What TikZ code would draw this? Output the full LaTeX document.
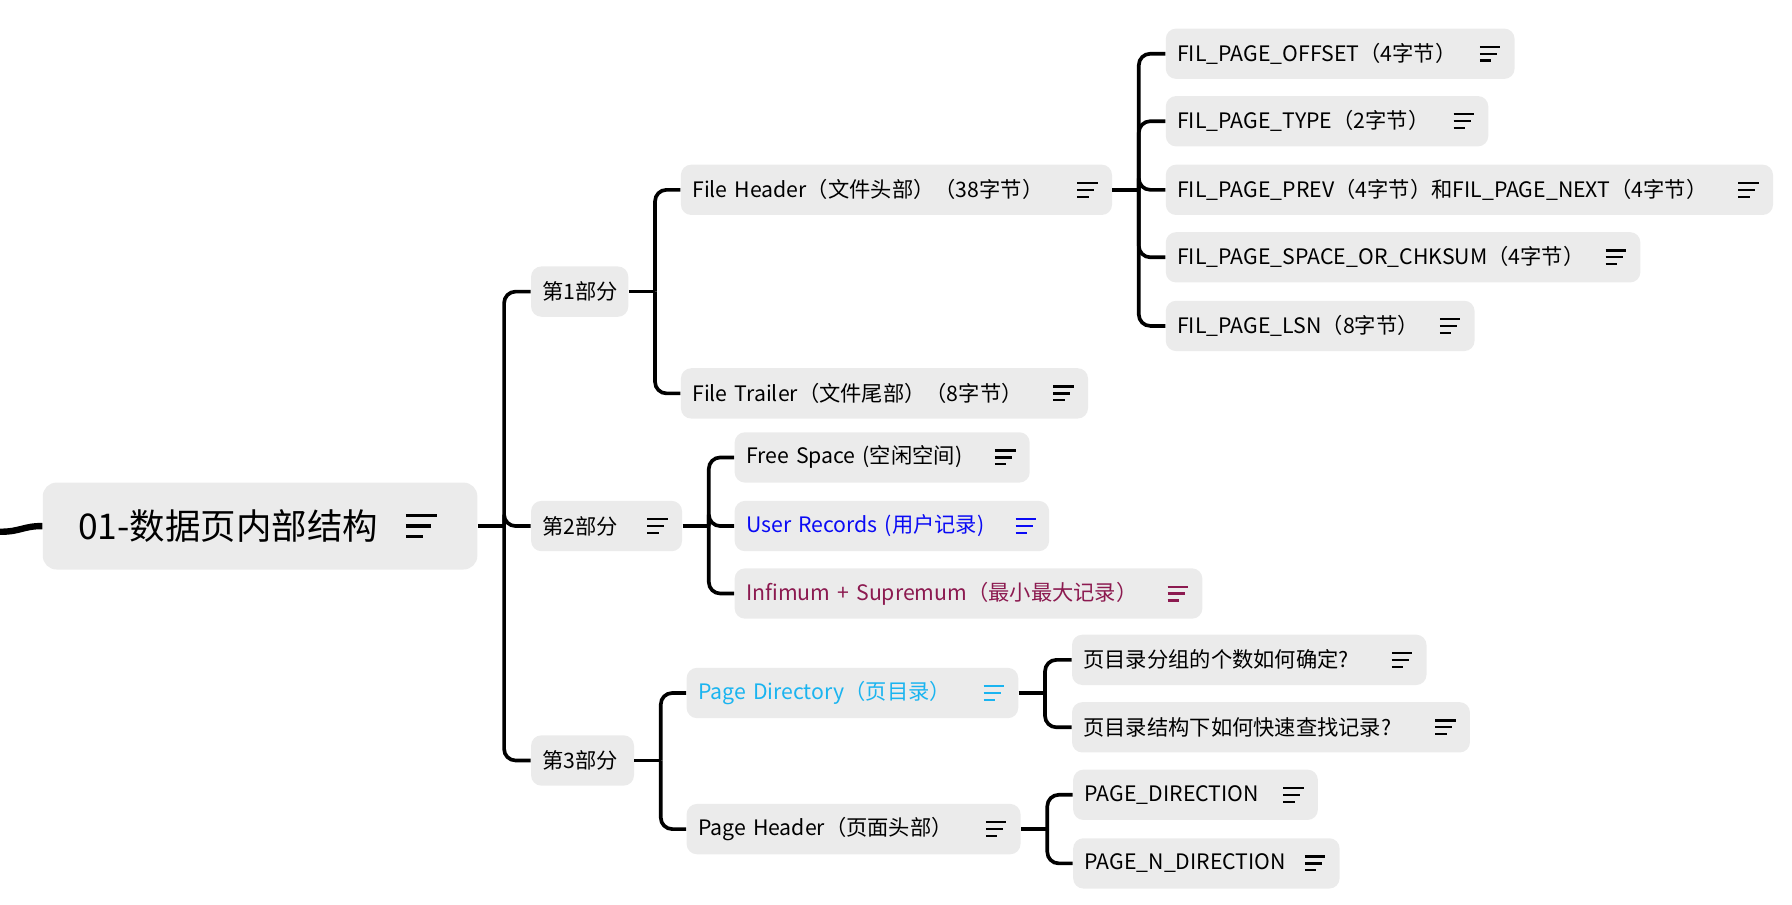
\documentclass[tikz,border=0pt]{standalone}
\usepackage{fontspec}
\setmainfont{Noto Sans CJK SC}
\usetikzlibrary{positioning}
\definecolor{boxgray}{HTML}{EBEBEB}
\definecolor{linkblue}{HTML}{0A0AF5}
\definecolor{dirblue}{HTML}{1AB4F0}
\definecolor{infred}{HTML}{8C1A50}
\tikzset{every node/.style={font=\fontsize{9.3pt}{11pt}\selectfont},
  topic/.style={fill=boxgray, rounded corners=4.5pt, anchor=west,
    inner xsep=5pt, inner ysep=0pt, minimum height=22pt,
    text width=#1, align=left},
  conn/.style={line width=1.6pt, rounded corners=5pt}}
% three-line note icon: [colour]{x}{y}
\newcommand{\menuicon}[3][black]
{\draw[#1, line width=1pt] (#2,#3) ++(0,-6) -- ++(18,0)
   (#2,#3) -- ++(15,0)
   (#2,#3) ++(0,6) -- ++(10,0);}

\begin{document}
\begin{tikzpicture}[x=0.5pt,y=-0.5pt]
  \useasboundingbox (0,0) rectangle (1567,790.5);
  % root
  \node[topic=159pt, minimum height=38pt, inner xsep=15.5pt,
    rounded corners=6pt, font=\fontsize{15.5pt}{18pt}\selectfont]
    (root) at (37,460) {01-数据页内部结构};
  \draw[line width=1.5pt] (355,451) -- ++(27,0) (355,460) -- ++(22,0)
    (355,469) -- ++(15,0);
  \coordinate (edge) at (0,465);
  \draw[line width=2.8pt] (edge) .. controls (18,465) and (20,460) .. (root.west);
  % parts
  \node[topic=32.5pt] (p1) at (464,255) {第1部分};
  \node[topic=56pt] (p2) at (464,460) {第2部分};
  \node[topic=35pt] (p3) at (464,665) {第3部分};
  % part 1
  \node[topic=178.5pt] (fh) at (595,166) {File Header（文件头部）（38字节）};
  \node[topic=168pt] (ft) at (595,344) {File Trailer（文件尾部）（8字节）};
  \node[topic=142.5pt] (off) at (1019,47) {FIL\_PAGE\_OFFSET（4字节）};
  \node[topic=131pt] (type) at (1019,106) {FIL\_PAGE\_TYPE（2字节）};
  \node[topic=255.5pt] (prev) at (1019,166)
    {FIL\_PAGE\_PREV（4字节）和FIL\_PAGE\_NEXT（4字节）};
  \node[topic=197.5pt] (space) at (1019,225) {FIL\_PAGE\_SPACE\_OR\_CHKSUM（4字节）};
  \node[topic=125pt] (lsn) at (1019,285) {FIL\_PAGE\_LSN（8字节）};
  % part 2
  \node[topic=119pt] (free) at (642,400) {Free Space (空闲空间)};
  \node[topic=127.5pt, text=linkblue] (user) at (642,460) {User Records (用户记录)};
  \node[topic=194.5pt, text=infred] (inf) at (642,519)
    {Infimum + Supremum（最小最大记录）};
  % part 3
  \node[topic=135pt, text=dirblue] (pd) at (600,606) {Page Directory（页目录）};
  \node[topic=136pt] (ph) at (600,725) {Page Header（页面头部）};
  \node[topic=145pt] (q1) at (937,577) {页目录分组的个数如何确定?};
  \node[topic=164pt] (q2) at (937,636) {页目录结构下如何快速查找记录?};
  \node[topic=97pt] (pdir) at (938,695) {PAGE\_DIRECTION};
  \node[topic=106.5pt] (pnd) at (938,755) {PAGE\_N\_DIRECTION};
  % icons
  \foreach \x/\y in {566/460, 942/166, 921/344, 1294/47, 1271/106, 1520/166,
    1404/225, 1259/285, 870/400, 862/725, 1217/577, 1255/636, 1122/695, 1141/755}
    \menuicon{\x}{\y};
  \menuicon[linkblue]{888}{460}
  \menuicon[infred]{1021}{519}
  \menuicon[dirblue]{860}{606}
  % connectors
  \foreach \p/\kids in {root/{p1,p2,p3}, p1/{fh,ft}, p2/{free,user,inf},
    p3/{pd,ph}, fh/{off,type,prev,space,lsn}, pd/{q1,q2}, ph/{pdir,pnd}} {
    \coordinate (j) at ([xshift=11.5pt]\p.east);
    \draw[conn] (\p.east) -- (j);
    \foreach \k in \kids \draw[conn] (j) |- (\k.west);
  }
\end{tikzpicture}
\end{document}
